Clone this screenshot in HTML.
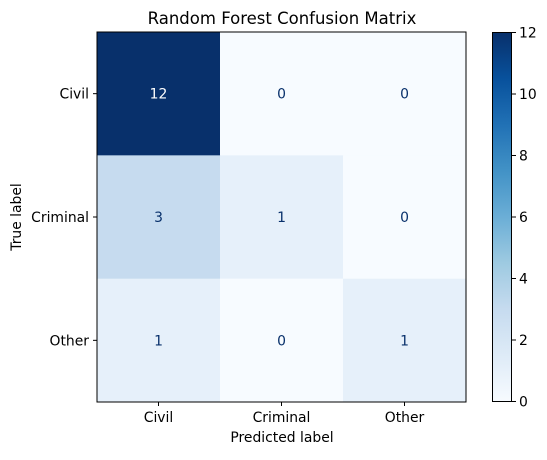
<!DOCTYPE html>
<html><head><meta charset="utf-8"><style>
body{margin:0;background:#fff;}
svg text{font-family:"DejaVu Sans","Liberation Sans",sans-serif;}
</style></head><body>
<svg id="chart" width="547" height="455" xmlns="http://www.w3.org/2000/svg">
<defs><linearGradient id="blues" x1="0" y1="1" x2="0" y2="0">
<stop offset="0" stop-color="#f7fbff"/><stop offset="0.125" stop-color="#deebf7"/><stop offset="0.25" stop-color="#c6dbef"/><stop offset="0.375" stop-color="#9ecae1"/><stop offset="0.5" stop-color="#6baed6"/><stop offset="0.625" stop-color="#4292c6"/><stop offset="0.75" stop-color="#2171b5"/><stop offset="0.875" stop-color="#08519c"/><stop offset="1" stop-color="#08306b"/>
</linearGradient></defs>
<text x="282" y="24" font-size="16.5" text-anchor="middle" fill="#000">Random Forest Confusion Matrix</text>
<g id="cells"></g>
<rect x="97" y="32" width="369" height="370" fill="none" stroke="#000" stroke-width="1"/>
<g id="axes"></g>
<text x="282" y="442" font-size="13.9" text-anchor="middle">Predicted label</text>
<text transform="translate(21,217) rotate(-90)" font-size="13.9" text-anchor="middle">True label</text>
<rect x="492.5" y="32.5" width="19" height="369" fill="url(#blues)" stroke="#000" stroke-width="1"/>
<g id="cbticks"></g>
</svg>
<script>
const classes=["Civil","Criminal","Other"];
const matrix=[[12,0,0],[3,1,0],[1,0,1]];
const cbTicks=[0,2,4,6,8,10,12];
const vmin=0,vmax=12;
const X0=97,Y0=32,W=369,H=370;
const ns="http://www.w3.org/2000/svg";
const stops=["#f7fbff","#deebf7","#c6dbef","#9ecae1","#6baed6","#4292c6","#2171b5","#08519c","#08306b"];
function hex(c){return [1,3,5].map(i=>parseInt(c.substr(i,2),16));}
function color(v){let t=(v-vmin)/(vmax-vmin)*(stops.length-1);let i=Math.min(Math.floor(t),stops.length-2);let f=t-i;let a=hex(stops[i]),b=hex(stops[i+1]);return "rgb("+a.map((x,k)=>Math.round(x+(b[k]-x)*f)).join(",")+")";}
const cw=W/classes.length,ch=H/classes.length;
const xs=j=>X0+j*cw, ys=i=>Y0+i*ch;
const cells=document.getElementById("cells"),axes=document.getElementById("axes");
function mk(tag,attrs,parent){const e=document.createElementNS(ns,tag);for(const k in attrs)e.setAttribute(k,attrs[k]);parent.appendChild(e);return e;}
matrix.forEach((row,i)=>row.forEach((v,j)=>{
 const r=mk("rect",{x:xs(j),y:ys(i),width:cw+0.5,height:ch+0.5,fill:color(v)},cells);
 
 
 const t=mk("text",{x:xs(j)+cw/2,y:ys(i)+ch/2+5,"font-size":"13.9","text-anchor":"middle",fill:v>(vmax+vmin)/2?"#fff":"#08306b"},cells);
 t.textContent=v;
 
 
}));
classes.forEach((c,j)=>{
 const x=xs(j)+cw/2;
 mk("line",{x1:x,x2:x,y1:Y0+H,y2:Y0+H+4,stroke:"#000"},axes);
 const t=mk("text",{x:x,y:Y0+H+20,"font-size":"13.9","text-anchor":"middle"},axes);t.textContent=c;
 
 
 const y=ys(j)+ch/2;
 mk("line",{x1:X0-4,x2:X0,y1:y,y2:y,stroke:"#000"},axes);
 const u=mk("text",{x:X0-8,y:y+5,"font-size":"13.9","text-anchor":"end"},axes);u.textContent=c;
 
 
});
const cb=document.getElementById("cbticks");
cbTicks.forEach(v=>{
 const y=401.5-(v-vmin)/(vmax-vmin)*369;
 mk("line",{x1:512,x2:516,y1:y,y2:y,stroke:"#000"},cb);
 const t=mk("text",{x:519,y:y+5,"font-size":"13.9"},cb);t.textContent=v;
 
 
});
</script>
</body></html>
